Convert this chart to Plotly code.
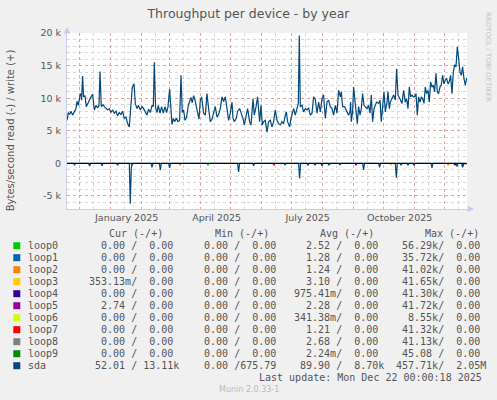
import pandas as pd
import plotly.graph_objects as go

# ---------------- data ----------------
start = pd.Timestamp("2024-11-18 08:00")
span_days = 400

# sda write (+), in kB/s, day offsets from start
write_days = [0, 1.3, 2.6, 4, 5.6, 7.3, 9, 10, 11.3, 13, 14, 14.6, 15.6, 16.6, 18, 19.3, 20.6, 22.3, 24, 25.6,
              27.3, 29, 30.6, 32, 33, 34.3, 36, 37.3, 39, 40.6, 42.3, 44, 45.6, 47.3, 49, 50.6, 52.3, 54, 55.6,
              57.3, 59, 60.6, 62.3, 64, 65.3, 67, 68.3, 70, 71.3, 73.3, 75, 76.6, 78.3, 80, 81.6, 83.3, 85, 86.3,
              87.3, 88.6, 90, 91.3, 93, 94.6, 96.3, 98, 99.6, 101, 102.6, 104, 105, 106.3, 107.6, 109.3, 111,
              112.6, 114, 115.3, 116.6, 118, 119.6, 121.3, 122.6, 124, 125.3, 126.6, 128, 129.3, 130.6, 132,
              133.3, 134.6,
              136.6, 138.3, 140, 141.6, 143.3, 145, 146.6, 148.3, 150, 151.6, 153.3, 155, 156.6, 158.3, 160,
              161.6, 163.3, 165, 166, 167.3, 169.3, 170.6, 172.6, 174, 176, 177.3, 179.3, 180.6, 182.6, 184, 186,
              187.3, 189.3, 190.6, 192.6, 194, 195.3, 196.6, 198.3, 200, 201.6, 203.3, 205, 206.6, 208.3, 210,
              211.6, 213.3, 215, 216.6, 218.3, 219.3, 220.6, 222.6, 224, 225.3, 226.6, 228.3, 230, 231.3, 232.3,
              233.3, 235, 236.6, 238.3, 240, 241.6, 243.3, 245, 246.6, 248.3, 250, 251.6, 253.3, 255, 256.6,
              258.3, 260, 261.6, 263.3, 265, 266.6, 268.3,
              270, 271.6, 273.3, 274.3, 275.6, 277.6, 279, 280.3, 281.6, 283, 283.6, 284.3, 285.6, 286.6, 287.6,
              289, 290.3, 291.6, 293, 294.3, 295.6, 297, 298.3, 300, 301.6, 303, 304.3, 305.6, 307, 308.3, 309.6,
              311.6, 313, 314.3, 315.6, 317, 318.3, 320, 321, 322.3, 323.3, 325, 326.6, 328.3, 329.6, 331, 332.3,
              333.6, 335, 336.6, 338.3, 339.6, 341, 342.3, 343.6, 345, 346.3, 347.6, 349, 350.3, 351.6, 353,
              354.3, 355.6, 357, 358.3, 359.6, 361, 362.3, 363.6, 365, 366.3, 367.6, 369, 370.3, 371.6, 373,
              374.3, 375.6, 377, 378.3, 379.6, 381, 382.3, 383.6, 385, 386.3, 387.6, 389, 390.3, 391.6, 393,
              394.3, 395.6, 397, 398.3, 399.6, 400]
write_k = [6.6, 7.8, 7.5, 8.0, 7.4, 7.8, 8.4, 9.5, 8.9, 10.5, 10.7, 9.7, 13.4, 10.2, 10.4, 8.7, 9.2, 9.7, 10.2, 10.6,
           8.2, 8.9, 8.5, 8.9, 14.1, 8.7, 9.0, 8.7, 8.5, 8.2, 8.4, 7.8, 8.2, 7.7, 8.0, 7.3, 7.8, 7.5, 8.0,
           6.9, 7.1, 6.1, 5.6, 9.2, 11.7, 12.2, 9.2, 8.4, 8.9, 8.2, 8.7, 8.4, 7.8, 7.4, 8.3, 7.8, 8.9, 8.7,
           15.5, 8.5, 7.8, 8.9, 7.7, 8.7, 7.7, 8.7, 7.8, 8.7, 11.4, 6.9, 6.0, 6.9, 6.4, 6.9, 6.4,
           6.6, 13.5, 7.8, 8.2, 6.6, 7.1, 8.9, 9.7, 10.1, 9.3, 10.4, 9.7, 8.5, 7.8, 6.8,
           9.7, 10.2,
           7.7, 7.4, 10.7, 8.4, 6.4, 6.8, 7.9, 8.7, 7.1, 7.5, 8.4, 10.2, 9.5, 10.2, 8.4,
           6.6, 7.7, 9.4, 6.9, 6.4, 6.9, 8.0, 8.4, 7.8, 6.9, 5.9, 7.4, 8.4, 6.4, 5.9, 9.9,
           7.4, 8.9, 10.2, 6.4, 8.9, 5.9, 6.4, 6.6, 4.8, 6.4, 6.6, 5.6, 6.4, 8.2, 6.6,
           6.1, 5.9, 6.4, 6.1, 7.4, 7.9, 6.4, 5.6, 6.9, 7.9, 8.4, 7.4, 8.7, 9.2, 19.6,
           8.7, 8.9, 7.9, 8.4, 8.2, 8.5, 7.4, 7.7, 10.2, 9.8, 7.7, 9.4, 7.9, 9.9, 10.5,
           6.9, 9.4, 9.7, 8.7, 8.4, 7.4, 8.9,
           7.7, 11.2, 10.2, 11.0, 8.7, 8.7, 8.2, 7.7, 7.4, 7.9, 9.4, 6.4, 7.9, 11.7, 9.9,
           7.9, 6.1, 8.7, 7.4, 8.4, 10.7, 8.9, 8.7, 8.4, 8.9, 7.7, 10.5, 6.4, 8.4, 8.9, 9.4,
           9.2, 9.7, 6.4, 9.4, 11.0, 7.9, 9.4, 11.0, 8.4, 9.4, 9.9, 10.5, 9.7, 14.5, 10.5, 10.2,
           9.7, 9.2, 11.2, 9.4, 9.9, 8.4, 11.7, 10.2, 10.5, 10.2, 10.2, 10.7, 7.4, 10.2, 9.4,
           10.2, 9.9, 9.2, 11.7, 10.7, 11.2, 9.4, 12.5, 11.7, 12.0, 11.0, 13.8, 11.0, 10.7, 11.7,
           12.0, 13.5, 12.2, 12.8, 13.0, 12.2, 12.5, 13.5, 10.7, 14.0, 15.1, 14.8, 17.9, 16.1, 14.0,
           13.5, 14.8, 13.0, 12.0, 13.0, 13.1]

# sda read (-), in kB/s (drawn below zero)
read_days = [0, 7, 7.5, 8.3, 21.6, 22.6, 23.6, 34, 35, 36, 49.6, 50.6, 51.6, 62.3, 63.3, 64.3, 65.3,
             84, 85, 86, 92.3, 93.3, 94.3, 101.6, 102.6, 103.6, 170.6, 171.6, 172.6, 185.6, 186.6, 187.6,
             217, 218, 219, 231.6, 232.6, 233.6, 240, 241, 242, 247, 248, 249, 254, 255, 256, 261, 262, 263,
             272, 273, 274, 295.6, 296.6, 297.6, 311.6, 312.6, 313.6, 328.3, 329.3, 330.3, 333, 334, 335,
             340, 341, 342, 346, 347, 348, 364, 365, 366, 389, 390, 391, 394.6, 395.6, 396.6, 400]
read_k = [0, 0, 0.3, 0, 0, 0.4, 0, 0, 0.35, 0, 0, 0.3, 0, 0, 6.2, 0.6, 0,
          0, 0.6, 0, 0, 1.0, 0, 0, 0.7, 0, 0, 1.3, 0, 0, 0.37, 0,
          0, 0.2, 0, 0, 2.3, 0, 0, 0.25, 0, 0, 0.3, 0, 0, 0.35, 0, 0, 0.3, 0,
          0, 0.2, 0, 0, 1.0, 0, 0, 0.6, 0, 0, 2.2, 0, 0, 0.3, 0,
          0, 0.3, 0, 0, 0.25, 0, 0, 0.7, 0, 0, 0.5, 0, 0, 0.6, 0, 0.05]

# small read spikes of the loop devices (kB/s)
loop_spike_names = ["loop0", "loop0", "loop2", "loop7", "loop5", "loop3", "loop2", "loop4", "loop9"]
loop_spike_days = [65, 141, 113, 207, 289, 324, 381, 388, 396]
loop_spike_k = [0.35, 0.3, 0.3, 0.3, 0.3, 0.3, 0.3, 0.3, 0.4]

names = ["loop0", "loop1", "loop2", "loop3", "loop4", "loop5", "loop6", "loop7", "loop8", "loop9", "sda"]
colors = ["#00CC00", "#0066B3", "#FF8000", "#FFCC00", "#330099", "#990099", "#CCFF00", "#FF0000",
          "#808080", "#008F00", "#00487D"]
cur_txt = ["  0.00 /  0.00", "  0.00 /  0.00", "  0.00 /  0.00", "353.13m/  0.00", "  0.00 /  0.00",
           "  2.74 /  0.00", "  0.00 /  0.00", "  0.00 /  0.00", "  0.00 /  0.00", "  0.00 /  0.00",
           " 52.01 / 13.11k"]
min_txt = ["  0.00 /  0.00"] * 10 + ["  0.00 /675.79"]
avg_txt = ["  2.52 /  0.00", "  1.28 /  0.00", "  1.24 /  0.00", "  3.10 /  0.00", "975.41m/  0.00",
           "  2.28 /  0.00", "341.38m/  0.00", "  1.21 /  0.00", "  2.68 /  0.00", "  2.24m/  0.00",
           " 89.90 /  8.70k"]
max_txt = [" 56.29k/  0.00", " 35.72k/  0.00", " 41.02k/  0.00", " 41.65k/  0.00", " 41.30k/  0.00",
           " 41.72k/  0.00", "  8.55k/  0.00", " 41.32k/  0.00", " 41.13k/  0.00", " 45.08 /  0.00",
           "457.71k/  2.05M"]

x_month_starts = ["2024-12-01", "2025-01-01", "2025-02-01", "2025-03-01", "2025-04-01", "2025-05-01",
                  "2025-06-01", "2025-07-01", "2025-08-01", "2025-09-01", "2025-10-01", "2025-11-01",
                  "2025-12-01"]
x_month_labels = ["", "January 2025", "", "", "April 2025", "", "", "July 2025", "", "",
                  "October 2025", "", ""]
x_mid_months = ["2024-11-15", "2024-12-15", "2025-01-15", "2025-02-15", "2025-03-15", "2025-04-15",
                "2025-05-15", "2025-06-15", "2025-07-15", "2025-08-15", "2025-09-15", "2025-10-15",
                "2025-11-15", "2025-12-15"]
y_ticks = [-5000, 0, 5000, 10000, 15000, 20000]
y_labels = ["-5 k", "0", "5 k", "10 k", "15 k", "20 k"]

# ---------------- figure ----------------
W, H = 497, 400
L, R, T, B = 67, 30, 33, 191
PW, PH = W - L - R, H - T - B


def px(xp):
    return (xp - L) / PW


def py(yp):
    return (H - B - yp) / PH


def to_dates(days):
    return [start + pd.Timedelta(days=d) for d in days]


TXT = "#555555"
MONO = "DejaVu Sans Mono"
SANS = "DejaVu Sans"

fig = go.Figure()

for nm, col in zip(names[:-1], colors[:-1]):
    ds, vs = [], []
    for n, d, v in zip(loop_spike_names, loop_spike_days, loop_spike_k):
        if n == nm:
            ds += [d - 0.6, d, d + 0.6, None]
            vs += [0, -v * 1000, 0, None]
    if ds:
        xs = [None if d is None else start + pd.Timedelta(days=d) for d in ds]
        fig.add_trace(go.Scatter(x=xs, y=vs, mode="lines", connectgaps=False,
                                 line=dict(color=col, width=1.6), hoverinfo="skip"))

fig.add_trace(go.Scatter(x=to_dates(read_days), y=[-v * 1000 for v in read_k], mode="lines",
                         line=dict(color=colors[-1], width=1.2), hoverinfo="skip"))
fig.add_trace(go.Scatter(x=to_dates(write_days), y=[v * 1000 for v in write_k], mode="lines",
                         line=dict(color=colors[-1], width=1.2), hoverinfo="skip"))

fig.add_hline(y=0, line=dict(color="black", width=1))

fig.update_layout(
    width=W, height=H,
    margin=dict(l=L, r=R, t=T, b=B),
    paper_bgcolor="#F0F0F0", plot_bgcolor="#FFFFFF",
    showlegend=False,
    title=dict(text="Throughput per device - by year", x=0.5, xref="container", xanchor="center",
               y=1 - 13.3 / H, yref="container", yanchor="middle",
               font=dict(family=SANS, size=12.5, color=TXT)),
    xaxis=dict(range=[start, start + pd.Timedelta(days=span_days)],
               tickmode="array", tickvals=x_month_starts, ticktext=x_month_labels,
               ticklabelshift=16, ticks="", showgrid=True, gridcolor="#F0A0A0", griddash="dot",
               gridwidth=1, showline=True, linecolor="#CCCCEE", zeroline=False,
               tickfont=dict(family=SANS, size=9.5, color=TXT),
               minor=dict(tickmode="array", tickvals=x_mid_months, showgrid=True,
                          gridcolor="#D8D8D8", griddash="dot", gridwidth=1)),
    yaxis=dict(range=[-7000, 20000], tickmode="array", tickvals=y_ticks, ticktext=y_labels,
               ticks="outside", ticklen=3, tickcolor="#F0F0F0",
               showgrid=True, gridcolor="#F0A0A0", griddash="dot", gridwidth=1,
               showline=True, linecolor="#CCCCEE", zeroline=False,
               tickfont=dict(family=SANS, size=9.5, color=TXT),
               minor=dict(dtick=1000, tick0=0, showgrid=True, gridcolor="#D8D8D8",
                          griddash="dot", gridwidth=1)),
)

ann = []
ann.append(dict(text="Bytes/second read (-) / write (+)", x=px(10.5), y=py(130.8), xref="paper",
                yref="paper", showarrow=False, textangle=-90, xanchor="center", yanchor="middle",
                font=dict(family=SANS, size=10, color=TXT)))
ann.append(dict(text="RRDTOOL / TOBI OETIKER", x=px(488.5), y=py(56.5), xref="paper", yref="paper",
                showarrow=False, textangle=90, xanchor="center", yanchor="middle",
                font=dict(family=SANS, size=7, color="#C4C4C4")))
# axis arrows
ann.append(dict(text="", x=px(L), y=py(27), ax=0, ay=7, xref="paper", yref="paper",
                showarrow=True, arrowhead=2, arrowsize=1.3, arrowwidth=1, arrowcolor="#C8C8F0"))
ann.append(dict(text="", x=px(474), y=py(H - B), ax=-7, ay=0, xref="paper", yref="paper",
                showarrow=True, arrowhead=2, arrowsize=1.3, arrowwidth=1, arrowcolor="#C8C8F0"))


def nb(s):
    return s.replace(" ", "\u00a0")


def txt(s, xp, yp, anchor="left", size=10, color=TXT, family=MONO):
    ann.append(dict(text=nb(s), x=px(xp), y=py(yp), xref="paper", yref="paper", showarrow=False,
                    xanchor=anchor, yanchor="middle", font=dict(family=family, size=size, color=color)))


headers = ["Cur (-/+)", "Min (-/+)", "Avg (-/+)", "Max (-/+)"]
head_x = [107.3, 213.3, 318.3, 423.3]
for h, hx in zip(headers, head_x):
    txt(h, hx, 233.3)

col_x = [87.3, 189.9, 292.3, 394.1]
shapes = []
for i, nm in enumerate(names):
    yrow = 245.7 + 12 * i
    shapes.append(dict(type="rect", xref="paper", yref="paper", x0=px(13.3), x1=px(20.3),
                       y0=py(yrow + 3.5), y1=py(yrow - 3.5), fillcolor=colors[i], line=dict(width=0)))
    txt(nm, 26, yrow)
    for colvals, cx in zip([cur_txt, min_txt, avg_txt, max_txt], col_x):
        txt(colvals[i], cx, yrow)

txt("Last update: Mon Dec 22 00:00:18 2025", 483.5, 377.7, anchor="right")
txt("Munin 2.0.33-1", 248.5, 389.3, anchor="center", size=8, color="#BBBBBB", family=SANS)

fig.update_layout(annotations=ann, shapes=list(fig.layout.shapes) + shapes)

fig.write_html("out.html", config={"displayModeBar": False},
               post_script="document.body.style.margin='0px';")
